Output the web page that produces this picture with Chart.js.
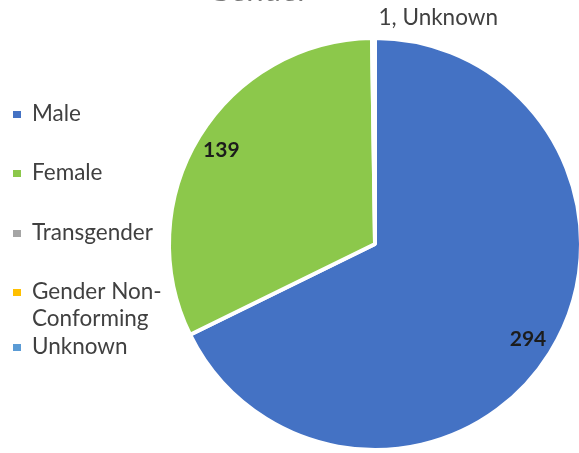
<!DOCTYPE html>
<html>
<head>
<meta charset="utf-8">
<script src="https://cdn.jsdelivr.net/npm/chart.js@4.4.1/dist/chart.umd.min.js"></script>
<style>
  html, body { margin: 0; padding: 0; background: #ffffff; }
  #wrap { position: relative; width: 579px; height: 453px; }
</style>
</head>
<body>
<div id="wrap"><canvas id="c" width="579" height="453"></canvas></div>
<script>
// Gender breakdown
const categories = ['Male', 'Female', 'Transgender', 'Gender Non-Conforming', 'Unknown'];
const legendLines = [['Male'], ['Female'], ['Transgender'], ['Gender Non-', 'Conforming'], ['Unknown']];
const counts = [294, 139, 0, 0, 1];
const sliceColors = ['#4472C4', '#8CC84B', '#A5A5A5', '#FFC000', '#5B9BD5'];
const chartTitle = 'Gender';

const FONT = 'Lato, "Open Sans", sans-serif';

// Title sits at the very top edge of the canvas
const titlePlugin = {
  id: 'topTitle',
  afterDraw(chart) {
    const ctx = chart.ctx;
    ctx.save();
    ctx.font = '31px ' + FONT;
    ctx.fillStyle = '#7a7a7a';
    ctx.textAlign = 'center';
    ctx.textBaseline = 'alphabetic';
    ctx.fillText(chartTitle, 258, 1);
    ctx.restore();
  }
};

// Legend on the left with small square markers
const sideLegend = {
  id: 'sideLegend',
  afterDraw(chart) {
    const ctx = chart.ctx;
    const rowY = [114, 173, 233, 292, 347];
    const lineH = 27;
    ctx.save();
    ctx.font = '22.5px ' + FONT;
    ctx.textBaseline = 'middle';
    ctx.textAlign = 'left';
    legendLines.forEach((lines, i) => {
      const y = rowY[i];
      ctx.fillStyle = sliceColors[i];
      ctx.fillRect(13, y - 3, 8, 7);
      ctx.fillStyle = '#404040';
      lines.forEach((t, j) => ctx.fillText(t, 32, y + j * lineH));
    });
    ctx.restore();
  }
};

// Value labels: inside for large slices, outside with category for tiny ones
const valueLabels = {
  id: 'valueLabels',
  afterDatasetsDraw(chart) {
    const ctx = chart.ctx;
    const meta = chart.getDatasetMeta(0);
    const data = chart.data.datasets[0].data;
    const total = data.reduce((a, b) => a + b, 0);
    ctx.save();
    meta.data.forEach((arc, i) => {
      const v = data[i];
      if (!v) return;
      const mid = (arc.startAngle + arc.endAngle) / 2;
      const r = arc.outerRadius;
      if (v / total < 0.02) {
        const px = arc.x + Math.cos(mid) * r;
        const py = arc.y + Math.sin(mid) * r;
        ctx.font = '22.5px ' + FONT;
        ctx.fillStyle = '#404040';
        ctx.textAlign = 'left';
        ctx.textBaseline = 'middle';
        ctx.fillText(v + ', ' + chart.data.labels[i], px + 5, py - 20);
      } else {
        const px = arc.x + Math.cos(mid) * r * 0.875;
        const py = arc.y + Math.sin(mid) * r * 0.875;
        ctx.font = 'bold 21px ' + FONT;
        ctx.fillStyle = '#1c1c1c';
        ctx.textAlign = 'center';
        ctx.textBaseline = 'middle';
        ctx.fillText(String(v), px, py);
      }
    });
    ctx.restore();
  }
};

new Chart(document.getElementById('c'), {
  type: 'pie',
  data: {
    labels: categories,
    datasets: [{
      data: counts,
      backgroundColor: sliceColors,
      borderColor: '#ffffff',
      borderWidth: 4
    }]
  },
  options: {
    responsive: false,
    animation: false,
    radius: 206,
    layout: { padding: { left: 171, top: 40, right: 0, bottom: 5 } },
    plugins: {
      legend: { display: false },
      tooltip: { enabled: false },
      title: { display: false }
    }
  },
  plugins: [titlePlugin, sideLegend, valueLabels]
});
</script>
</body>
</html>
